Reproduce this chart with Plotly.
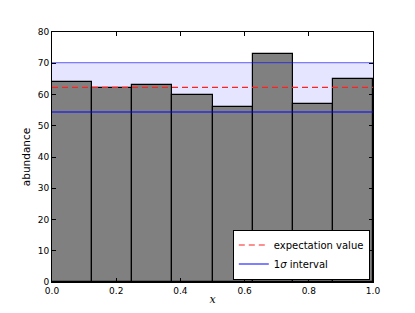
import plotly.graph_objects as go

bin_edges = [0.0, 0.125, 0.25, 0.375, 0.5, 0.625, 0.75, 0.875, 1.0]
counts = [64, 62, 63, 60, 56, 73, 57, 65]
expectation = 62.3
sigma_low = 54.4
sigma_high = 70.2
x_ticks = [0.0, 0.2, 0.4, 0.6, 0.8, 1.0]
y_ticks = [0, 10, 20, 30, 40, 50, 60, 70, 80]

centers = [(a + b) / 2 for a, b in zip(bin_edges[:-1], bin_edges[1:])]
widths = [b - a for a, b in zip(bin_edges[:-1], bin_edges[1:])]

fig = go.Figure()
fig.add_trace(go.Bar(x=centers, y=counts, width=widths,
                     marker=dict(color="#808080", line=dict(color="black", width=1.2)),
                     showlegend=False))
fig.add_trace(go.Scatter(x=[bin_edges[0], bin_edges[-1]], y=[expectation, expectation], mode="lines",
                         line=dict(color="#ff2020", dash="6px,4px", width=1.2),
                         name="expectation value"))
fig.add_trace(go.Scatter(x=[bin_edges[0], bin_edges[-1]], y=[sigma_low, sigma_low], mode="lines",
                         line=dict(color="#0000ff", width=1.2),
                         name="1<i>σ</i> interval"))
fig.add_trace(go.Scatter(x=[bin_edges[0], bin_edges[-1]], y=[sigma_high, sigma_high], mode="lines",
                         line=dict(color="rgba(0,0,255,0.5)", width=1.2),
                         showlegend=False))
# shaded 1-sigma band behind the bars
fig.add_hrect(y0=sigma_low, y1=sigma_high, fillcolor="rgba(0,0,255,0.1)",
              line_width=0, layer="below")

axis_common = dict(showline=True, linecolor="black", linewidth=1, mirror="ticks",
                   ticks="inside", ticklen=4, tickcolor="black", showgrid=False,
                   zeroline=False, tickfont=dict(size=9, color="black"), automargin=False)

# page body has an 8px default margin, so size/margins are compensated
fig.update_layout(
    width=407, height=305,
    margin=dict(l=44, r=42, t=24, b=31),
    plot_bgcolor="white", paper_bgcolor="white",
    font=dict(family="DejaVu Sans", color="black"),
    bargap=0,
    xaxis=dict(range=[0, 1], tickvals=x_ticks,
               ticktext=[f"{v:.1f}" for v in x_ticks],
               title=dict(text="<i>x</i>", font=dict(size=11, family="DejaVu Serif"), standoff=0),
               **axis_common),
    yaxis=dict(range=[0, 80], tickvals=y_ticks,
               title=dict(text="abundance", font=dict(size=10.5), standoff=5),
               **axis_common),
    legend=dict(x=0.99, y=0.01, xanchor="right", yanchor="bottom",
                bgcolor="white", bordercolor="black", borderwidth=1,
                font=dict(size=10), traceorder="normal", tracegroupgap=0, itemwidth=30),
)

fig.write_html("out.html")
